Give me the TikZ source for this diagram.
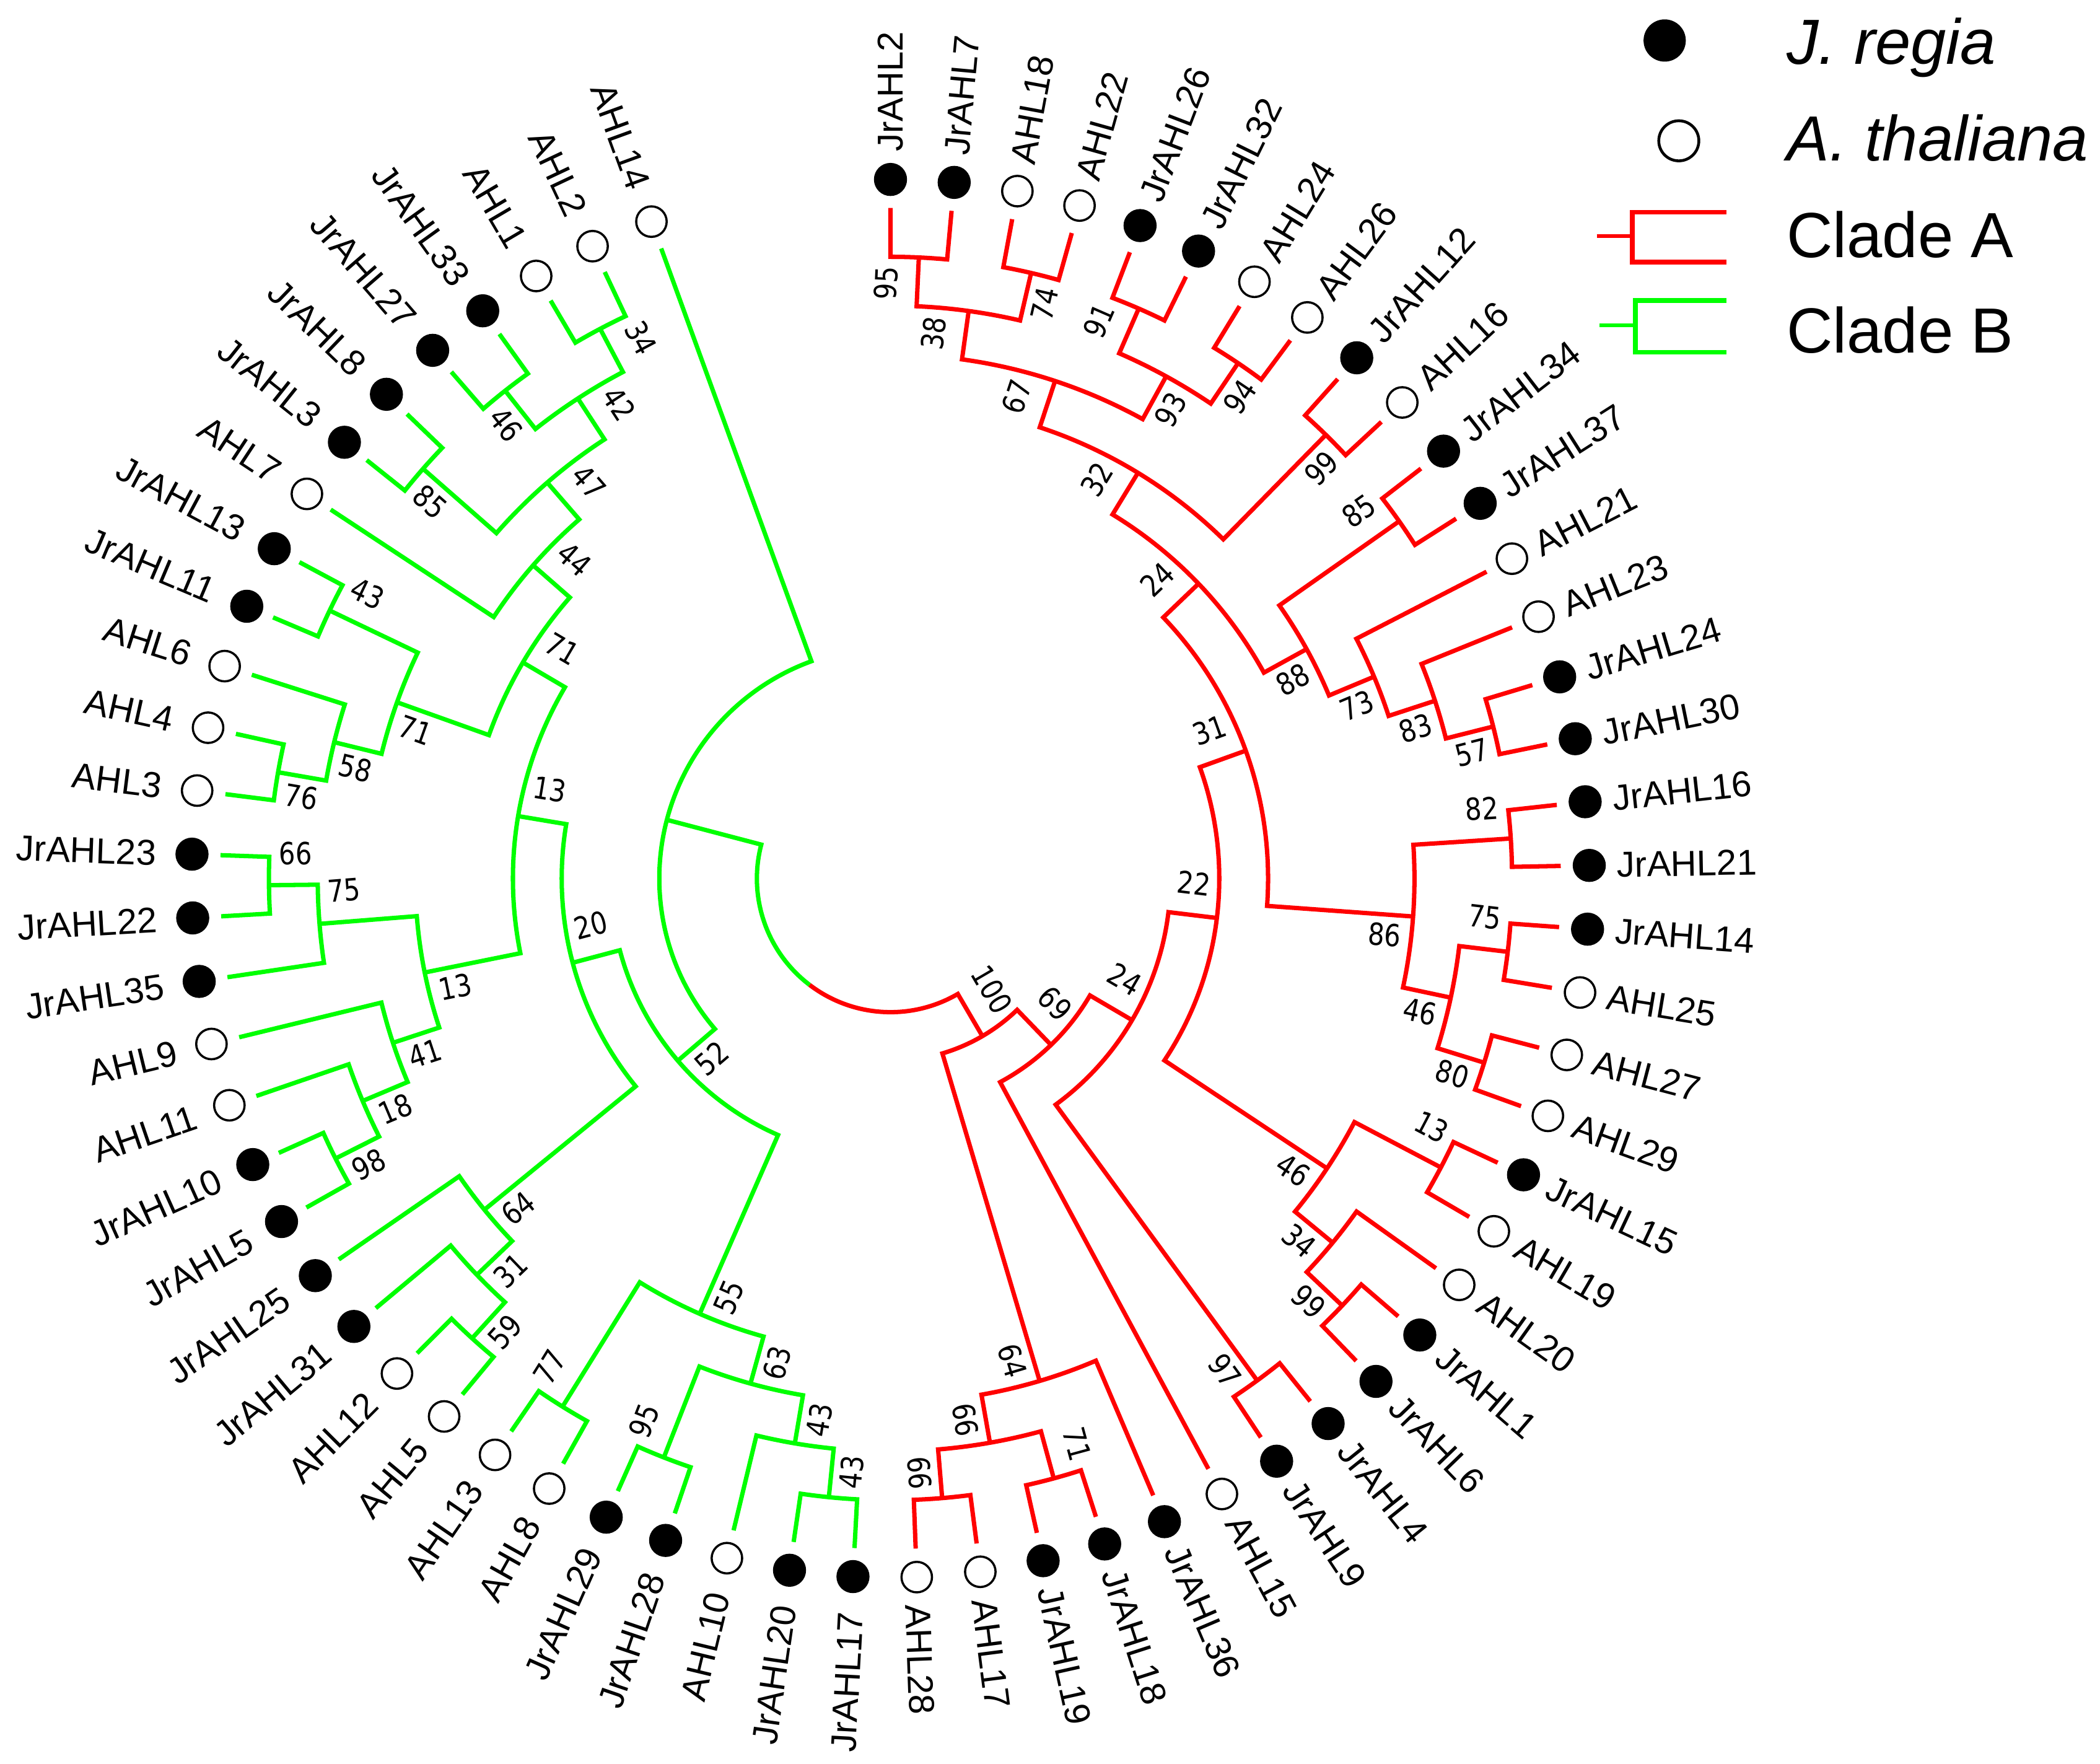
\documentclass[tikz,border=0pt]{standalone}
\usepackage{fontspec}
\newfontfamily\lsans{Liberation Sans}
\newfontfamily\dvsans[FakeStretch=0.85]{DejaVu Sans}
\usetikzlibrary{calc}

\definecolor{redA}{RGB}{255,0,0}
\definecolor{greenB}{RGB}{0,255,0}

\newcommand\rtip{498}
\newcommand\rstep{36.25}
\newcommand\rmark{519.2}

\newcommand\setang[2]{\expandafter\xdef\csname ang@#1\endcsname{#2}}
\newcommand\getang[1]{\csname ang@#1\endcsname}

% bootstrap value: name, angle, radius, side (1 above / -1 below the text line), value
\newcommand\bootlabel[5]{%
  \pgfmathsetmacro\blr{#3-7.5}%
  \pgfmathsetmacro\bld{#4>0 ? 23.5 : -15}%
  \pgfmathtruncatemacro\blleft{cos(#2)<-0.01 ? 1 : 0}%
  \ifnum\blleft=1
    \pgfmathsetmacro\blq{#2-90}%
    \node[boot, rotate=#2+180, anchor=west] (b-#1) at ($(#2:\blr)+(\blq:\bld)$) {#5};
  \else
    \pgfmathsetmacro\blq{#2+90}%
    \node[boot, rotate=#2, anchor=east] (b-#1) at ($(#2:\blr)+(\blq:\bld)$) {#5};
  \fi}

% inner node: name, child, child, height, colour, bootstrap, side
\newcommand\clade[7]{%
  \pgfmathsetmacro\cla{\getang{#2}}%
  \pgfmathsetmacro\clb{\getang{#3}}%
  \pgfmathsetmacro\clm{(\cla+\clb)/2}%
  \pgfmathsetmacro\clr{\rtip-\rstep*#4}%
  \setang{#1}{\clm}%
  \coordinate (#1) at (\clm:\clr);
  \draw[branch, #5] (#2) -- (\cla:\clr) arc[start angle=\cla, end angle=\clb, radius=\clr] -- (#3);
  \if\relax\detokenize{#6}\relax\else\bootlabel{#1}{\clm}{\clr}{#7}{#6}\fi}

\begin{document}
\begin{tikzpicture}[x=0.2173mm, y=0.2173mm,
  branch/.style={line width=2pt, line join=miter},
  jrdot/.style={circle, fill=black, inner sep=0pt, minimum size=15.2pt},
  atdot/.style={circle, draw=black, fill=white, line width=1pt, inner sep=0pt, minimum size=14pt},
  leaf/.style={font=\lsans\fontsize{16.5}{18}\selectfont, inner sep=0pt},
  boot/.style={font=\dvsans\fontsize{14}{15}\selectfont, inner sep=0pt},
  keytext/.style={font=\lsans\fontsize{29.3}{32}\selectfont, inner sep=0pt, anchor=base west}]
\useasboundingbox (0,0) rectangle (1560,1310.1);

\begin{scope}[shift={(661.5,657.6)}]
% leaves
\foreach \nm/\ty [count=\i] in {JrAHL2/jrdot, JrAHL7/jrdot, AHL18/atdot, AHL22/atdot,
  JrAHL26/jrdot, JrAHL32/jrdot, AHL24/atdot, AHL26/atdot, JrAHL12/jrdot, AHL16/atdot,
  JrAHL34/jrdot, JrAHL37/jrdot, AHL21/atdot, AHL23/atdot, JrAHL24/jrdot, JrAHL30/jrdot,
  JrAHL16/jrdot, JrAHL21/jrdot, JrAHL14/jrdot, AHL25/atdot, AHL27/atdot, AHL29/atdot,
  JrAHL15/jrdot, AHL19/atdot, AHL20/atdot, JrAHL1/jrdot, JrAHL6/jrdot, JrAHL4/jrdot,
  JrAHL9/jrdot, AHL15/atdot, JrAHL36/jrdot, JrAHL18/jrdot, JrAHL19/jrdot, AHL17/atdot,
  AHL28/atdot, JrAHL17/jrdot, JrAHL20/jrdot, AHL10/atdot, JrAHL28/jrdot, JrAHL29/jrdot,
  AHL8/atdot, AHL13/atdot, AHL5/atdot, AHL12/atdot, JrAHL31/jrdot, JrAHL25/jrdot,
  JrAHL5/jrdot, JrAHL10/jrdot, AHL11/atdot, AHL9/atdot, JrAHL35/jrdot, JrAHL22/jrdot,
  JrAHL23/jrdot, AHL3/atdot, AHL4/atdot, AHL6/atdot, JrAHL11/jrdot, JrAHL13/jrdot,
  AHL7/atdot, JrAHL3/jrdot, JrAHL8/jrdot, JrAHL27/jrdot, JrAHL33/jrdot, AHL1/atdot,
  AHL2/atdot, AHL14/atdot} {
  \pgfmathsetmacro\lang{90-(\i-1)*(340/65)}
  \setang{\nm}{\lang}
  \coordinate (\nm) at (\lang:\rtip);
  \node[\ty] (m-\nm) at (\lang:\rmark) {};
  \pgfmathtruncatemacro\lleft{cos(\lang)<-0.01 ? 1 : 0}
  \ifnum\lleft=1
    \node[leaf, rotate=\lang+180, anchor=east] (t-\nm) at (\lang:545.5) {\nm};
  \else
    \node[leaf, rotate=\lang, anchor=west] (t-\nm) at (\lang:539.5) {\nm};
  \fi
}

% clade A
\clade{n95}{JrAHL2}{JrAHL7}{1}{redA}{95}{1}
\clade{n74}{AHL18}{AHL22}{1}{redA}{74}{-1}
\clade{n38}{n95}{n74}{2}{redA}{38}{1}
\clade{n91}{JrAHL26}{JrAHL32}{1}{redA}{91}{1}
\clade{n94}{AHL24}{AHL26}{1}{redA}{94}{-1}
\clade{n93}{n91}{n94}{2}{redA}{93}{-1}
\clade{n67}{n38}{n93}{3}{redA}{67}{1}
\clade{n99a}{JrAHL12}{AHL16}{1}{redA}{99}{-1}
\clade{n32}{n67}{n99a}{4}{redA}{32}{1}
\clade{n85a}{JrAHL34}{JrAHL37}{1}{redA}{85}{1}
\clade{n57}{JrAHL24}{JrAHL30}{1}{redA}{57}{-1}
\clade{n83}{AHL23}{n57}{2}{redA}{83}{-1}
\clade{n73}{AHL21}{n83}{3}{redA}{73}{-1}
\clade{n88}{n85a}{n73}{4}{redA}{88}{-1}
\clade{n24a}{n32}{n88}{5}{redA}{24}{1}
\clade{n82}{JrAHL16}{JrAHL21}{1}{redA}{82}{1}
\clade{n75a}{JrAHL14}{AHL25}{1}{redA}{75}{1}
\clade{n80}{AHL27}{AHL29}{1}{redA}{80}{-1}
\clade{n46a}{n75a}{n80}{2}{redA}{46}{-1}
\clade{n86}{n82}{n46a}{3}{redA}{86}{-1}
\clade{n31a}{n24a}{n86}{6}{redA}{31}{1}
\clade{n13a}{JrAHL15}{AHL19}{1}{redA}{13}{1}
\clade{n99b}{JrAHL1}{JrAHL6}{1}{redA}{99}{-1}
\clade{n34a}{AHL20}{n99b}{2}{redA}{34}{-1}
\clade{n46b}{n13a}{n34a}{3}{redA}{46}{-1}
\clade{n22}{n31a}{n46b}{7}{redA}{22}{1}
\clade{n97}{JrAHL4}{JrAHL9}{1}{redA}{97}{-1}
\clade{n24b}{n22}{n97}{8}{redA}{24}{1}
\clade{n69}{n24b}{AHL15}{9}{redA}{69}{1}
\clade{n71a}{JrAHL18}{JrAHL19}{1}{redA}{71}{1}
\clade{n66a}{AHL17}{AHL28}{1}{redA}{66}{-1}
\clade{n66b}{n71a}{n66a}{2}{redA}{66}{-1}
\clade{n64a}{JrAHL36}{n66b}{3}{redA}{64}{-1}
\clade{cladeA}{n69}{n64a}{10}{redA}{100}{1}

% clade B
\clade{n43a}{JrAHL17}{JrAHL20}{1}{greenB}{43}{-1}
\clade{n43b}{AHL10}{n43a}{2}{greenB}{43}{-1}
\clade{n95b}{JrAHL28}{JrAHL29}{1}{greenB}{95}{1}
\clade{n63}{n43b}{n95b}{3}{greenB}{63}{-1}
\clade{n77}{AHL8}{AHL13}{1}{greenB}{77}{1}
\clade{n55}{n63}{n77}{4}{greenB}{55}{-1}
\clade{n59}{AHL5}{AHL12}{1}{greenB}{59}{-1}
\clade{n31b}{n59}{JrAHL31}{2}{greenB}{31}{-1}
\clade{n64b}{n31b}{JrAHL25}{3}{greenB}{64}{-1}
\clade{n98}{JrAHL5}{JrAHL10}{1}{greenB}{98}{-1}
\clade{n18}{n98}{AHL11}{2}{greenB}{18}{-1}
\clade{n41}{n18}{AHL9}{3}{greenB}{41}{-1}
\clade{n66c}{JrAHL22}{JrAHL23}{1}{greenB}{66}{1}
\clade{n75b}{JrAHL35}{n66c}{2}{greenB}{75}{1}
\clade{n13b}{n41}{n75b}{4}{greenB}{13}{-1}
\clade{n76}{AHL3}{AHL4}{1}{greenB}{76}{-1}
\clade{n58}{n76}{AHL6}{2}{greenB}{58}{-1}
\clade{n43c}{JrAHL11}{JrAHL13}{1}{greenB}{43}{1}
\clade{n71b}{n58}{n43c}{3}{greenB}{71}{-1}
\clade{n85b}{JrAHL3}{JrAHL8}{1}{greenB}{85}{-1}
\clade{n46c}{JrAHL27}{JrAHL33}{1}{greenB}{46}{-1}
\clade{n34b}{AHL1}{AHL2}{1}{greenB}{34}{1}
\clade{n42}{n46c}{n34b}{2}{greenB}{42}{1}
\clade{n47}{n85b}{n42}{3}{greenB}{47}{1}
\clade{n44}{AHL7}{n47}{4}{greenB}{44}{1}
\clade{n71c}{n71b}{n44}{5}{greenB}{71}{1}
\clade{n13c}{n13b}{n71c}{6}{greenB}{13}{1}
\clade{n20}{n64b}{n13c}{7}{greenB}{20}{1}
\clade{n52}{n55}{n20}{8}{greenB}{52}{-1}
\clade{cladeB}{n52}{AHL14}{9}{greenB}{}{1}

% root
\pgfmathsetmacro\rta{\getang{cladeB}}
\pgfmathsetmacro\rtb{\getang{cladeA}}
\pgfmathsetmacro\rtm{(\rta+\rtb)/2}
\pgfmathsetmacro\rtr{\rtip-\rstep*11}
\coordinate (root) at (\rtm:\rtr);
\draw[branch, greenB] (cladeB) -- (\rta:\rtr) arc[start angle=\rta, end angle=\rtm, radius=\rtr];
\draw[branch, redA] (root) arc[start angle=\rtm, end angle=\rtb, radius=\rtr] -- (cladeA);
\end{scope}

% key
\node[jrdot, minimum size=19.4pt] (key-jr) at (1236.6,1280) {};
\node[atdot, minimum size=18.4pt, line width=1.3pt] (key-at) at (1247.1,1205.5) {};
\node[keytext] (key-jr-t) at (1327,1262.4) {\itshape J. regia};
\node[keytext] (key-at-t) at (1327,1190.7) {\itshape A. thaliana};
\node[keytext] (key-a-t) at (1327,1119) {Clade A};
\node[keytext] (key-b-t) at (1327,1047.9) {Clade B};
\draw[redA, line width=1.8pt] (1186.2,1134.9) -- (1212.5,1134.9);
\draw[redA, line width=2.2pt] (1282.3,1152.5) -- (1212.5,1152.5) -- (1212.5,1115.4) -- (1282.3,1115.4);
\draw[greenB, line width=1.8pt] (1188.2,1068.6) -- (1215,1068.6);
\draw[greenB, line width=2.2pt] (1282.3,1087) -- (1215,1087) -- (1215,1048.5) -- (1282.3,1048.5);
\end{tikzpicture}
\end{document}
